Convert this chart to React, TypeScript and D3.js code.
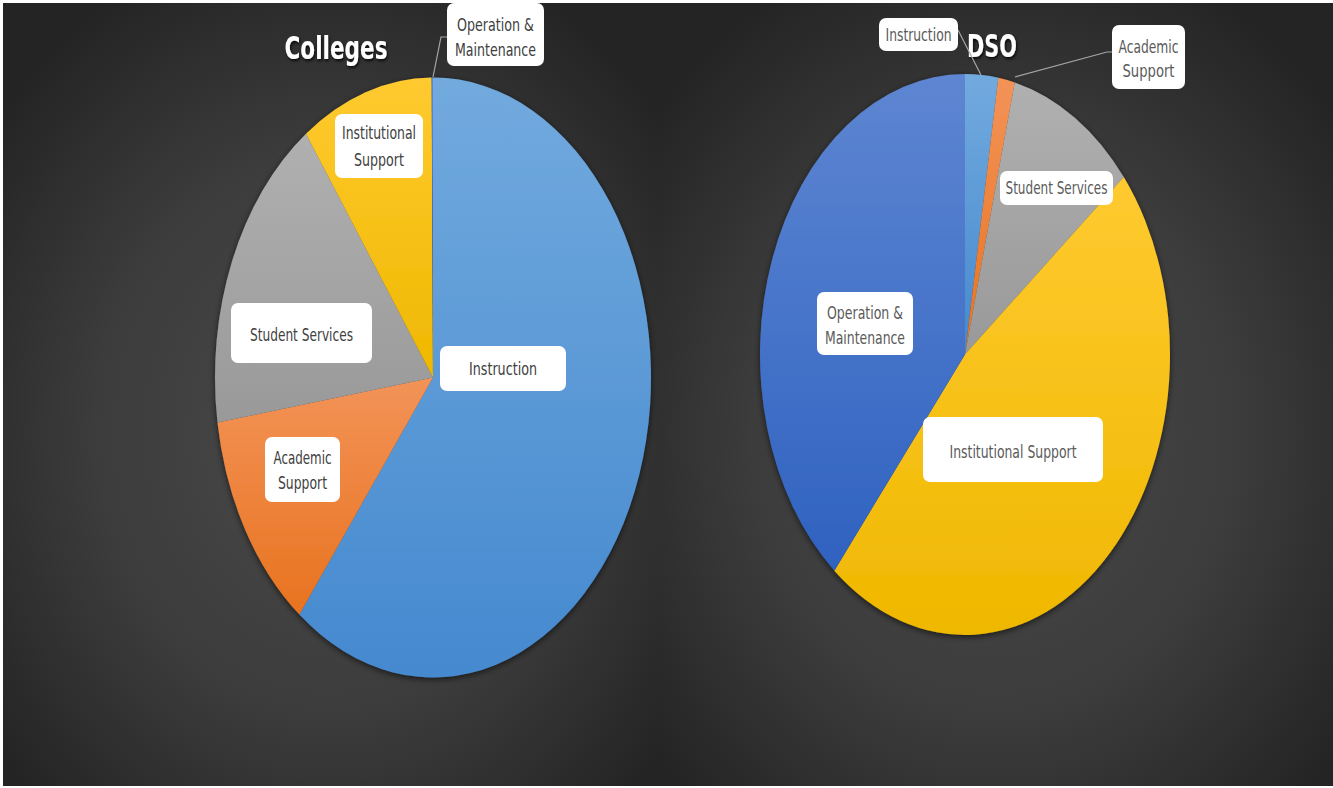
import React from "react";
import * as d3 from "d3";

const categories = ["Instruction", "Academic Support", "Student Services", "Institutional Support", "Operation & Maintenance"];
const collegesValues = [60.5, 12.1, 17.5, 9.8, 0.1];
const dsoValues = [2.6, 1.3, 10.2, 46.9, 39.0];
const titles = ["Colleges", "DSO"];

// Office-like gradient colours per category: [top, bottom]
const gradColors: Record<string, [string, string]> = {
  "Instruction": ["#72aade", "#4589cf"],
  "Academic Support": ["#f39358", "#e8731f"],
  "Student Services": ["#b0b0b0", "#999999"],
  "Institutional Support": ["#ffca30", "#efb800"],
  "Operation & Maintenance": ["#5e86d2", "#2f62c0"],
};

type Label = { cat: string; x: number; y: number; w: number; h: number; lines: { t: string; y: number; len: number }[]; leader?: [number, number][] };

const layout = [
  {
    panel: { x: 3, y: 3, w: 654, h: 783 },
    pie: { cx: 433, cy: 377.5, rx: 218, ry: 300 },
    title: { x: 336, y: 48, len: 103 },
    textColor: "#404040",
    labels: [
      { cat: "Operation & Maintenance", x: 447, y: 3, w: 97, h: 63, lines: [{ t: "Operation &", y: 25, len: 77 }, { t: "Maintenance", y: 50, len: 81 }], leader: [[447, 37], [441, 37], [433, 77]] },
      { cat: "Institutional Support", x: 335, y: 114, w: 88, h: 64, lines: [{ t: "Institutional", y: 133, len: 74 }, { t: "Support", y: 160, len: 50 }] },
      { cat: "Student Services", x: 231, y: 303, w: 141, h: 60, lines: [{ t: "Student Services", y: 335, len: 103 }] },
      { cat: "Instruction", x: 440, y: 346, w: 126, h: 45, lines: [{ t: "Instruction", y: 369, len: 68 }] },
      { cat: "Academic Support", x: 265, y: 437, w: 75, h: 65, lines: [{ t: "Academic", y: 458, len: 58 }, { t: "Support", y: 483, len: 49 }] },
    ] as Label[],
  },
  {
    panel: { x: 657, y: 3, w: 676, h: 783 },
    pie: { cx: 965, cy: 354.5, rx: 205, ry: 280.5 },
    title: { x: 992, y: 46, len: 50 },
    textColor: "#5a5a5a",
    labels: [
      { cat: "Instruction", x: 879, y: 18, w: 79, h: 33, lines: [{ t: "Instruction", y: 35, len: 66 }], leader: [[958, 30], [981, 75]] },
      { cat: "Academic Support", x: 1112, y: 25, w: 73, h: 64, lines: [{ t: "Academic", y: 47, len: 60 }, { t: "Support", y: 71, len: 52 }], leader: [[1112, 52], [1107, 52], [1015, 77]] },
      { cat: "Student Services", x: 1000, y: 171, w: 113, h: 34, lines: [{ t: "Student Services", y: 188, len: 102 }] },
      { cat: "Operation & Maintenance", x: 817, y: 292, w: 96, h: 63, lines: [{ t: "Operation &", y: 313, len: 76 }, { t: "Maintenance", y: 338, len: 80 }] },
      { cat: "Institutional Support", x: 923, y: 417, w: 180, h: 65, lines: [{ t: "Institutional Support", y: 452, len: 127 }] },
    ] as Label[],
  },
];

const datasets = [collegesValues, dsoValues];
const FONT = "'Liberation Sans Narrow', 'DejaVu Sans Condensed', 'Open Sans', sans-serif";

export default function App() {
  const pie = d3.pie<number>().sort(null).value((d) => d);
  const R = 100;
  const arc = d3.arc<d3.PieArcDatum<number>>().innerRadius(0).outerRadius(R);
  const line = d3.line();

  return (
    <svg width={1333} height={788} style={{ position: "absolute", left: 0, top: 0, background: "#ffffff" }}>
      <defs>
        {[0, 1].map((i) => (
          <radialGradient key={i} id={`bg${i}`} cx="50%" cy="55%" r="65%" fx="50%" fy="55%">
            <stop offset="0%" stopColor="#4a4a4a" />
            <stop offset="55%" stopColor="#3c3c3c" />
            <stop offset="100%" stopColor="#242424" />
          </radialGradient>
        ))}
        {categories.map((c, i) => (
          <linearGradient key={c} id={`g${i}`} x1="0" y1="0" x2="0" y2="1">
            <stop offset="0%" stopColor={gradColors[c][0]} />
            <stop offset="100%" stopColor={gradColors[c][1]} />
          </linearGradient>
        ))}
        <filter id="pieShadow" x="-10%" y="-10%" width="120%" height="120%">
          <feDropShadow dx="0" dy="2" stdDeviation="3" floodColor="#000" floodOpacity="0.6" />
        </filter>
        <filter id="titleShadow" x="-20%" y="-20%" width="140%" height="160%">
          <feDropShadow dx="1" dy="2" stdDeviation="1.5" floodColor="#000" floodOpacity="0.8" />
        </filter>
      </defs>
      {layout.map((L, pi) => {
        const arcs = pie(datasets[pi]);
        return (
          <g key={pi}>
            <rect x={L.panel.x} y={L.panel.y} width={L.panel.w} height={L.panel.h} fill={`url(#bg${pi})`} />
            <g filter="url(#pieShadow)">
              <g transform={`translate(${L.pie.cx},${L.pie.cy}) scale(${L.pie.rx / R},${L.pie.ry / R})`}>
                {arcs.map((a, i) => (
                  <path key={i} d={arc(a) || ""} fill={`url(#g${i})`} />
                ))}
              </g>
            </g>
            <text
              x={L.title.x}
              y={L.title.y}
              textAnchor="middle"
              dominantBaseline="central"
              fill="#ffffff"
              fontFamily={FONT}
              fontWeight="bold"
              fontSize={32}
              textLength={L.title.len}
              lengthAdjust="spacingAndGlyphs"
              filter="url(#titleShadow)"
            >
              {titles[pi]}
            </text>
            {L.labels.map((lb, li) => (
              <g key={li}>
                {lb.leader && <path d={line(lb.leader) || ""} fill="none" stroke="#a6a6a6" strokeWidth={1.2} />}
                <rect x={lb.x} y={lb.y} width={lb.w} height={lb.h} rx={7} ry={7} fill="#ffffff" />
                {lb.lines.map((ln, k) => (
                  <text
                    key={k}
                    x={lb.x + lb.w / 2}
                    y={ln.y}
                    textAnchor="middle"
                    dominantBaseline="central"
                    fill={L.textColor}
                    fontFamily={FONT}
                    fontSize={17}
                    textLength={ln.len}
                    lengthAdjust="spacingAndGlyphs"
                  >
                    {ln.t}
                  </text>
                ))}
              </g>
            ))}
          </g>
        );
      })}
    </svg>
  );
}
